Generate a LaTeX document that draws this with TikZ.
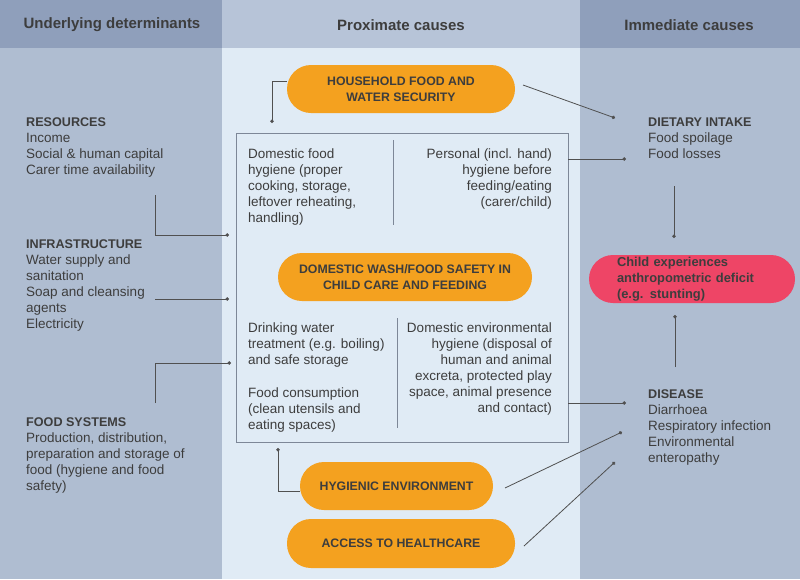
\documentclass[tikz,border=0pt]{standalone}
\usepackage{fontspec}
\setmainfont{Liberation Sans}
\usetikzlibrary{arrows.meta}
\definecolor{sidebg}{HTML}{AFBDD1}
\definecolor{sidehd}{HTML}{8F9FBB}
\definecolor{midbg}{HTML}{E0EBF5}
\definecolor{midhd}{HTML}{B7C4D8}
\definecolor{pillorange}{HTML}{F4A11F}
\definecolor{pillred}{HTML}{EE4566}
\definecolor{txtcol}{HTML}{3D3D3D}
\definecolor{linecol}{HTML}{505050}
\definecolor{boxcol}{HTML}{7D8797}
\newcommand\bodyfnt{\fontsize{13.5}{16}\selectfont}
\newcommand\ttl[1]{{\fontsize{12.6}{16}\selectfont\bfseries #1}}
\begin{document}
\begin{tikzpicture}[x=1pt,y=-1pt,
  hdr/.style={font=\fontsize{15}{18}\selectfont\bfseries, text=txtcol, inner sep=0pt},
  txt/.style={anchor=north west, inner sep=0pt, align=left, font=\bodyfnt, text=txtcol},
  rtxt/.style={anchor=north east, inner sep=0pt, align=right, font=\bodyfnt, text=txtcol},
  pill/.style={fill=pillorange, rounded corners=24pt, minimum height=48pt, inner sep=0pt,
     align=center, font=\fontsize{12.3}{16}\selectfont\bfseries, text=txtcol},
  conn/.style={draw=linecol, line width=0.8pt, -{Circle[length=3.5pt]}},
]
\useasboundingbox (0,0) rectangle (800,579);
% backgrounds
\fill[sidebg] (0,0) rectangle (222,579);
\fill[midbg] (222,0) rectangle (580,579);
\fill[sidebg] (580,0) rectangle (800,579);
\fill[sidehd] (0,0) rectangle (222,48);
\fill[midhd] (222,0) rectangle (580,48);
\fill[sidehd] (580,0) rectangle (800,48);
% headers
\node[hdr] (h1) at (112,25) {Underlying determinants};
\node[hdr] (h2) at (401,25) {Proximate causes};
\node[hdr] (h3) at (689,25) {Immediate causes};
% left column
\node[txt] (res) at (26,114.6) {\strut\ttl{RESOURCES}\\Income\\Social \& human capital\\Carer time availability};
\node[txt] (inf) at (26,236.6) {\strut\ttl{INFRASTRUCTURE}\\Water supply and\\sanitation\\Soap and cleansing\\agents\\Electricity};
\node[txt] (fsy) at (26,414.6) {\strut\ttl{FOOD SYSTEMS}\\Production, distribution,\\preparation and storage of\\food (hygiene and food\\safety)};
% main box
\node[draw=boxcol, line width=1pt, minimum width=332pt, minimum height=309pt, inner sep=0pt] (box) at (402,287.5) {};
\coordinate (d1a) at (393,140); \coordinate (d1b) at (393,225);
\coordinate (d2a) at (397,318); \coordinate (d2b) at (397,428);
\draw[boxcol, line width=0.8pt] (d1a) -- (d1b);
\draw[boxcol, line width=0.8pt] (d2a) -- (d2b);
\node[txt] (dfh) at (248,146.6) {\strut Domestic food\\hygiene (proper\\cooking, storage,\\leftover reheating,\\handling)};
\node[rtxt] (phy) at (552,146.6) {\strut Personal (incl. hand)\\hygiene before\\feeding/eating\\(carer/child)};
\node[txt] (dwt) at (248,320.6) {\strut Drinking water\\treatment (e.g. boiling)\\and safe storage};
\node[txt] (fco) at (248,385.6) {\strut Food consumption\\(clean utensils and\\eating spaces)};
\node[rtxt] (deh) at (552,320.6) {\strut Domestic environmental\\hygiene (disposal of\\human and animal\\excreta, protected play\\space, animal presence\\and contact)};
% pills
\node[pill, minimum width=228pt] (hfws) at (401,89) {HOUSEHOLD FOOD AND\\WATER SECURITY};
\node[pill, minimum width=254pt] (wash) at (405,277) {DOMESTIC WASH/FOOD SAFETY IN\\CHILD CARE AND FEEDING};
\node[pill, minimum width=193pt] (hyg) at (396.5,486) {HYGIENIC ENVIRONMENT};
\node[pill, minimum width=228pt, minimum height=49pt] (acc) at (401,543.5) {ACCESS TO HEALTHCARE};
\node[pill, fill=pillred, minimum width=206pt, text width=150pt, align=left,
      font=\fontsize{12.9}{16}\selectfont\bfseries] (stunt) at (692,279)
      {Child experiences\\anthropometric deficit\\(e.g. stunting)};
% right column
\node[txt] (diet) at (648,114.6) {\strut\ttl{DIETARY INTAKE}\\Food spoilage\\Food losses};
\node[txt] (dis) at (648,386.6) {\strut\ttl{DISEASE}\\Diarrhoea\\Respiratory infection\\Environmental\\enteropathy};
% connector coordinates
\coordinate (hfwsL) at (287,81);
\coordinate (hfwsD) at (272,123);
\coordinate (hfwsR) at (523,85);
\coordinate (dietA) at (615,118);
\coordinate (boxR1) at (568,159);
\coordinate (dietB) at (626,159);
\coordinate (boxR2) at (568,403);
\coordinate (disA) at (626,403);
\coordinate (resS) at (155,195);
\coordinate (resE) at (229,235);
\coordinate (infS) at (155,299);
\coordinate (infE) at (229,299);
\coordinate (fsyS) at (155,403);
\coordinate (fsyE) at (231,363);
\coordinate (hygL) at (300,491);
\coordinate (hygE) at (278,448);
\coordinate (dietS) at (674,186);
\coordinate (dietE) at (674,238);
\coordinate (disS) at (675,367);
\coordinate (disE) at (675,315);
\coordinate (hygR) at (505,488);
\coordinate (disB) at (622,432);
\coordinate (accR) at (524,546);
\coordinate (disC) at (615,462);
% connectors
\draw[conn] (hfwsL) -| (hfwsD);
\draw[conn] (hfwsR) -- (dietA);
\draw[conn] (boxR1) -- (dietB);
\draw[conn] (boxR2) -- (disA);
\draw[conn] (resS) |- (resE);
\draw[conn] (infS) -- (infE);
\draw[conn] (fsyS) |- (fsyE);
\draw[conn] (hygL) -| (hygE);
\draw[conn] (dietS) -- (dietE);
\draw[conn] (disS) -- (disE);
\draw[conn] (hygR) -- (disB);
\draw[conn] (accR) -- (disC);
\end{tikzpicture}
\end{document}
